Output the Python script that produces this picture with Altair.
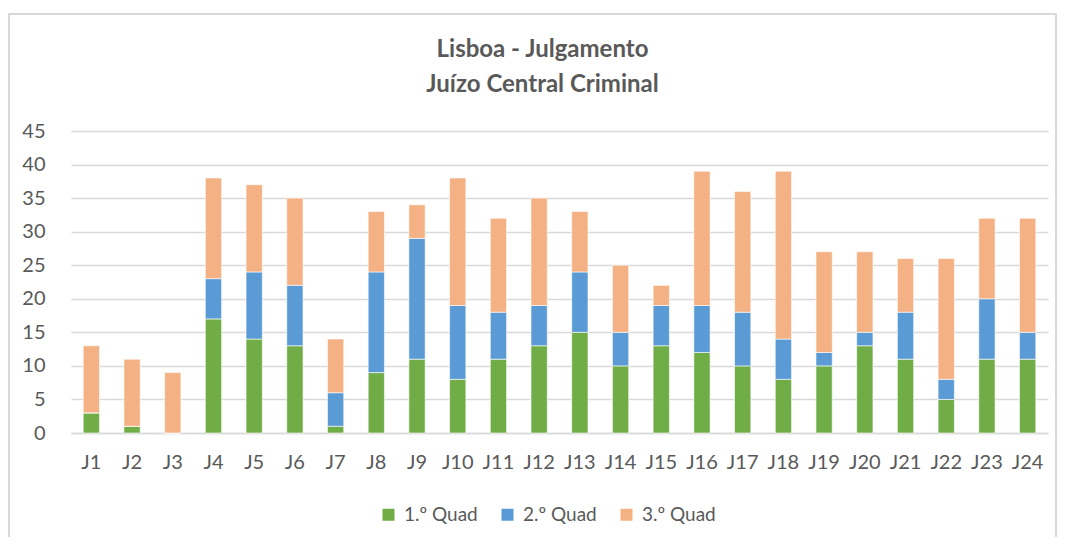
import altair as alt
import pandas as pd

categories = [f"J{i}" for i in range(1, 25)]
quad1 = [3, 1, 0, 17, 14, 13, 1, 9, 11, 8, 11, 13, 15, 10, 13, 12, 10, 8, 10, 13, 11, 5, 11, 11]
quad2 = [0, 0, 0, 6, 10, 9, 5, 15, 18, 11, 7, 6, 9, 5, 6, 7, 8, 6, 2, 2, 7, 3, 9, 4]
quad3 = [10, 10, 9, 15, 13, 13, 8, 9, 5, 19, 14, 16, 9, 10, 3, 20, 18, 25, 15, 12, 8, 18, 12, 17]
series = ["1.º Quad", "2.º Quad", "3.º Quad"]
colors = ["#70ad47", "#5b9bd5", "#f4b183"]

rows = []
for i, c in enumerate(categories):
    for k, vals in enumerate([quad1, quad2, quad3]):
        rows.append({"cat": c, "serie": series[k], "ord": k, "val": vals[i]})
df = pd.DataFrame(rows)

FONT = "Lato"
GRAY = "#595959"

bars = alt.Chart(df).mark_bar(stroke="white", strokeWidth=0.6).encode(
    x=alt.X("cat:N", sort=categories, title=None,
            scale=alt.Scale(paddingInner=0.6, paddingOuter=0.3),
            axis=alt.Axis(labelAngle=0, ticks=False, domainColor="#d9d9d9", domainWidth=1.5,
                          labelFont=FONT, labelFontSize=20, labelColor=GRAY, labelPadding=19)),
    y=alt.Y("sum(val):Q", title=None,
            scale=alt.Scale(domain=[0, 45]),
            axis=alt.Axis(values=list(range(0, 50, 5)), domain=False, ticks=False,
                          gridColor="#d9d9d9", gridWidth=1.5,
                          labelFont=FONT, labelFontSize=20, labelColor=GRAY, labelPadding=26)),
    color=alt.Color("serie:N", sort=series,
                    scale=alt.Scale(domain=series, range=colors),
                    legend=alt.Legend(title=None, orient="none", direction="horizontal",
                                      legendX=308, legendY=374, symbolType="square",
                                      symbolSize=144, symbolStrokeWidth=0,
                                      labelFont=FONT, labelFontSize=19, labelColor=GRAY,
                                      columnPadding=20, labelOffset=6)),
    order=alt.Order("ord:Q", sort="ascending"),
)

border = alt.Chart(pd.DataFrame({"d": [0]})).mark_rect(
    fill=None, stroke="#d9d9d9", strokeWidth=2
).encode(x=alt.value(-62), x2=alt.value(985), y=alt.value(-117), y2=alt.value(420))

chart = alt.layer(border, bars).properties(
    width=977, height=302,
    autosize=alt.AutoSizeParams(type="none"),
    padding={"left": 63, "top": 123, "right": 9, "bottom": 104},
    title=alt.Title(["Lisboa - Julgamento", "Juízo Central Criminal"],
                    font=FONT, fontSize=24, fontWeight="bold", color=GRAY,
                    lineHeight=35, offset=-84, anchor="middle", dx=-17),
).configure_view(stroke=None)

chart.save("out.html", embed_options={"renderer": "svg", "actions": False})
